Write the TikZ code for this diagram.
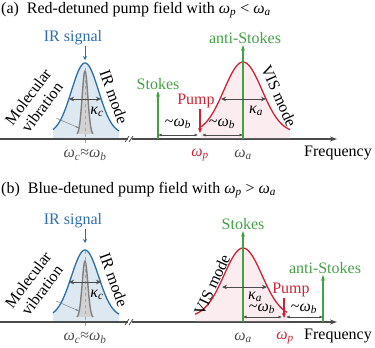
\documentclass[tikz,border=0pt]{standalone}
\usepackage{fontspec}
\setmainfont{Liberation Serif}
\usetikzlibrary{arrows.meta, positioning}

\definecolor{irblue}{RGB}{45,110,170}
\definecolor{visred}{RGB}{205,35,55}
\definecolor{sgreen}{RGB}{70,160,70}
\definecolor{axgray}{RGB}{75,75,75}

% Greek letter with italic subscript, set in the text font
\newcommand{\gsub}[2]{\textit{#1}\textsubscript{\textit{#2}}}

\begin{document}
\begin{tikzpicture}[x=1pt, y=-1pt,
    lbl/.style={inner sep=1pt, font=\fontsize{16}{17.5}\selectfont},
    axisline/.style={axgray, line width=1.1pt},
    kappa/.style={<->, >={Stealth[length=5pt,width=4.5pt]}, axgray, line width=0.9pt},
    detune/.style={<->, >={Latex[length=3.5pt,width=3pt]}, axgray, line width=0.6pt},
    greenline/.style={sgreen, line width=1.4pt, -{Stealth[length=6pt,width=4pt]}},
    pumparr/.style={visred, line width=1.2pt, -{Stealth[length=5pt,width=4pt]}},
    irarr/.style={irblue, line width=1pt, -{Stealth[length=4pt,width=4pt]}},
    modecurve/.style={line width=1.3pt}]
\useasboundingbox (0,0) rectangle (375,348);

% titles
\node[lbl, anchor=west] (titlea) at (0,10) {(a)\ \ Red-detuned pump field with \gsub{ω}{p} < \gsub{ω}{a}};
\node[lbl, anchor=west] (titleb) at (0,190) {(b)\ \ Blue-detuned pump field with \gsub{ω}{p} > \gsub{ω}{a}};

% IR side, same in both panels
\foreach \p/\dy/\h/\g in {a/0/71/64, b/183/67/57} {
  \fill[irblue!16] plot[domain=53:119, samples=60] (\x,{\dy+134-\h*exp(-((\x-85)^2)/370)})
    -- (119,\dy+138) -- (53,\dy+138) -- cycle;
  \draw[irblue, modecurve] plot[domain=53:119, samples=60] (\x,{\dy+134-\h*exp(-((\x-85)^2)/370)});
  \fill[gray!35] plot[domain=77:93, samples=40] (\x,{\dy+135-\g*exp(-((\x-85)^2)/16)});
  \draw[gray, line width=1.4pt] plot[domain=77:93, samples=40] (\x,{\dy+135-\g*exp(-((\x-85)^2)/16)});
  \draw[gray!70, dashed, line width=0.5pt] (85,\dy+68) -- (85,\dy+143);

  \node[lbl, irblue] (irsig\p) at (73,\dy+38) {IR signal};
  \coordinate (irtop\p) at (85,\dy+60);
  \draw[irarr] (irsig\p.south -| irtop\p) -- (irtop\p);

  \coordinate (kcl\p) at (69,\dy+99);
  \coordinate (kcr\p) at (101,\dy+99);
  \draw[kappa] (kcl\p) -- (kcr\p);
  \node[lbl] (kc\p) at (97,\dy+112) {\gsub{κ}{c}};

  \node[lbl, rotate=53, align=center] (mol\p) at (35,\dy+102) {Molecular\\vibration};
  \node[lbl, rotate=-70] (irmode\p) at (114,\dy+97) {IR mode};
  \coordinate (molpt\p) at (79,\dy+128);
  \draw[gray, line width=0.5pt, -{Latex[length=3pt,width=2pt]}] (56,\dy+118) -- (molpt\p);

  % frequency axis with break
  \draw[axisline] (0,\dy+139) -- (128,\dy+139);
  \draw[axisline, -{Stealth[length=7pt,width=5pt]}] (132,\dy+139) -- (337,\dy+139);
  \draw[axgray, line width=0.8pt] (125,\dy+142) -- (129,\dy+136) (129,\dy+142) -- (133,\dy+136);
  \node[lbl, axgray] (wc\p) at (85,\dy+155) {\gsub{ω}{c}≈\gsub{ω}{b}};
  \node[lbl] (freq\p) at (338,\dy+153) {Frequency};
}

% (a) red-detuned
\fill[visred!8] plot[domain=201:290, samples=60] (\x,{133-71*exp(-((\x-243)^2)/722)})
  -- (290,138) -- (201,138) -- cycle;
\draw[visred, modecurve] plot[domain=201:290, samples=60] (\x,{133-71*exp(-((\x-243)^2)/722)});
\node[lbl, rotate=-66] (visa) at (279,96) {VIS mode};

\node[lbl, sgreen] (antistokesa) at (245,38) {anti-Stokes};
\coordinate (asbota) at (243,139);
\draw[greenline] (asbota) -- (asbota |- antistokesa.south);

\node[lbl, sgreen] (stokesa) at (158,84) {Stokes};
\coordinate (stbota) at (158,139);
\draw[greenline] (stbota) -- (stokesa.south);

\node[lbl, visred] (pumpa) at (196,101) {Pump};
\coordinate (pbota) at (200,133);
\draw[pumparr] (pumpa.south -| pbota) -- (pbota);

\coordinate (kala) at (221,99);
\coordinate (kara) at (266,99);
\draw[kappa] (kala) -- (kara);
\node[lbl] (kaa) at (256,111) {\gsub{κ}{a}};

\coordinate (da1) at (158,135);
\coordinate (da2) at (198,135);
\coordinate (da3) at (202,135);
\coordinate (da4) at (243,135);
\draw[detune] (da1) -- (da2);
\draw[detune] (da3) -- (da4);
\node[lbl] (wba1) at (178,124) {\textasciitilde\gsub{ω}{b}};
\node[lbl] (wba2) at (222,124) {\textasciitilde\gsub{ω}{b}};

\node[lbl, visred] (wpa) at (200,155) {\gsub{ω}{p}};
\node[lbl, axgray] (waa) at (243,155) {\gsub{ω}{a}};

% (b) blue-detuned
\fill[visred!8] plot[domain=195:287, samples=60] (\x,{317-69*exp(-((\x-243)^2)/722)})
  -- (287,321) -- (195,321) -- cycle;
\draw[visred, modecurve] plot[domain=195:287, samples=60] (\x,{317-69*exp(-((\x-243)^2)/722)});
\node[lbl, rotate=65] (visb) at (212,285) {VIS mode};

\node[lbl, sgreen] (stokesb) at (243,224) {Stokes};
\coordinate (stbotb) at (243,322);
\draw[greenline] (stbotb) -- (stokesb.south);

\node[lbl, sgreen] (antistokesb) at (325,268) {anti-Stokes};
\coordinate (asbotb) at (323,322);
\draw[greenline] (asbotb) -- (asbotb |- antistokesb.south);

\node[lbl, visred] (pumpb) at (291,290) {Pump};
\coordinate (pbotb) at (284,318);
\draw[pumparr] (pumpb.south -| pbotb) -- (pbotb);

\coordinate (kalb) at (222,287);
\coordinate (karb) at (267,287);
\draw[kappa] (kalb) -- (karb);
\node[lbl] (kab) at (255,297) {\gsub{κ}{a}};

\coordinate (db1) at (243,317);
\coordinate (db2) at (282,317);
\coordinate (db3) at (286,317);
\coordinate (db4) at (323,317);
\draw[detune] (db1) -- (db2);
\draw[detune] (db3) -- (db4);
\node[lbl] (wbb1) at (262,309) {\textasciitilde\gsub{ω}{b}};
\node[lbl] (wbb2) at (304,309) {\textasciitilde\gsub{ω}{b}};

\node[lbl, axgray] (wab) at (243,338) {\gsub{ω}{a}};
\node[lbl, visred] (wpb) at (285,338) {\gsub{ω}{p}};

\end{tikzpicture}
\end{document}
